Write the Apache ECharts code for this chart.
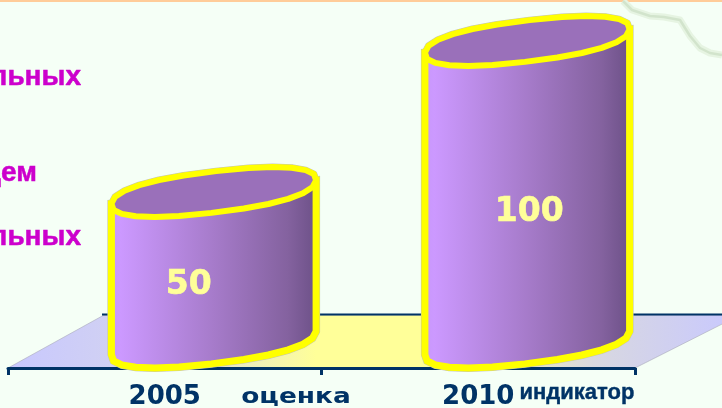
<!DOCTYPE html>
<html><head><meta charset="utf-8">
<style>html,body{margin:0;padding:0;background:#F5FFF6}#c{width:722px;height:408px}</style>
<script src="https://cdn.jsdelivr.net/npm/echarts@6/dist/echarts.min.js"></script>
</head><body><div id="c"></div>
<script>
const categories = ['2005', '2010'];
const values = [50, 100];
const notes = ['оценка', 'индикатор'];
const leftText = ['льных', 'дем', 'льных'];

const chart = echarts.init(document.getElementById('c'), null, {renderer: 'canvas'});
const NAVY = '#003366', YEL = '#FFFF00';
const labelShift = [[-25, 18], [2, 20]];

function rim(cx, cy, from, to, n) {
  const a = 103, b = 21, th = 6.5 * Math.PI / 180, k = 0.85, pts = [];
  const pw = v => Math.sign(v) * Math.pow(Math.abs(v), k);
  for (let i = 0; i <= n; i++) {
    const t = from + (to - from) * i / n;
    const c = pw(Math.cos(t)), s = pw(Math.sin(t));
    pts.push([cx + a * c * Math.cos(th) - b * s * Math.sin(th),
              cy - a * c * Math.sin(th) + b * s * Math.cos(th)]);
  }
  return pts;
}
function renderItem(params, api) {
  const i = params.dataIndex;
  const base = api.coord([api.value(0), 0]);
  const top = api.coord([api.value(0), api.value(1)]);
  const cx = base[0] + 49;
  const lower = rim(cx, base[1], 0, Math.PI, 12);
  const upper = rim(cx, top[1], 0, 2 * Math.PI, 24).slice(0, -1);
  const body = [rim(cx, top[1], 0, 0, 1)[0]].concat(lower, [rim(cx, top[1], Math.PI, Math.PI, 1)[0]]);
  const grad = new echarts.graphic.LinearGradient(0, 0, 1, 0, [
    {offset: 0, color: '#C598F8'}, {offset: 0.06, color: '#CC99FF'},
    {offset: 0.5, color: '#A67BCA'}, {offset: 0.85, color: '#84629F'}, {offset: 1, color: '#6A4F85'}
  ]);
  return {type: 'group', children: [
    {type: 'polygon', shape: {points: body}, style: {fill: 'none', stroke: '#C4C4B8', lineWidth: 8, lineJoin: 'miter'}},
    {type: 'polygon', shape: {points: upper}, style: {fill: 'none', stroke: '#C4C4B8', lineWidth: 7, lineJoin: 'round'}},
    {type: 'polygon', shape: {points: body}, style: {fill: grad, stroke: YEL, lineWidth: 7, lineJoin: 'miter'}},
    {type: 'polygon', shape: {points: upper}, style: {fill: '#9A70BA', stroke: YEL, lineWidth: 6, lineJoin: 'round'}},
    {type: 'text', x: cx + labelShift[i][0], y: (base[1] + top[1]) / 2 + labelShift[i][1],
      style: {text: String(api.value(1)), fill: '#FFFF99', stroke: '#FFFF99', lineWidth: 0.6, font: 'bold 33px "DejaVu Sans"', align: 'center', verticalAlign: 'middle'}}
  ]};
}
const heavy = (t, x, y) => ({type: 'text', z: 1, x, y, style: {text: t, fill: '#CC00CC', stroke: '#CC00CC', lineWidth: 0.5, font: 'bold 28px "Liberation Sans"', align: 'right', verticalAlign: 'middle'}});
const ridge = [[623,1],[632,10],[650,16],[664,17],[680,20],[690,36],[700,48],[710,53],[722,55]];
chart.setOption({
  animation: false,
  backgroundColor: '#F5FFF6',
  grid: {left: 8, right: 87, top: 41, bottom: 65, outerBoundsMode: 'none'},
  xAxis: {
    type: 'category', data: categories, offset: 25,
    axisLine: {onZero: false, lineStyle: {color: NAVY, width: 3}},
    axisTick: {show: true, length: 7, lineStyle: {color: NAVY, width: 3}},
    axisLabel: {color: NAVY, fontFamily: 'DejaVu Sans', fontWeight: 'bold', fontSize: 26, margin: 16}
  },
  yAxis: {type: 'value', min: 0, max: 100, show: false, splitLine: {show: false}},
  graphic: [
    {type: 'rect', z: 0, shape: {x: 0, y: 0, width: 722, height: 2}, style: {fill: '#FFCC99'}},
    {type: 'polyline', z: 0, shape: {points: ridge}, style: {fill: 'none', stroke: '#E6F4E2', lineWidth: 7, lineJoin: 'round'}},
    {type: 'polyline', z: 0, shape: {points: ridge}, style: {fill: 'none', stroke: '#D2E4CC', lineWidth: 2.5, lineJoin: 'round'}},
    {type: 'polygon', z: 0, shape: {points: [[8,368],[104,315],[740,315],[635,368]]},
      style: {fill: new echarts.graphic.LinearGradient(0, 0, 1, 0, [
        {offset: 0, color: '#C8C8FF'}, {offset: 0.2, color: '#D4D4EE'}, {offset: 0.42, color: '#FFFF99'},
        {offset: 0.58, color: '#FFFF99'}, {offset: 0.8, color: '#D8D8E0'}, {offset: 1, color: '#C8C8FF'}
      ]), stroke: '#A8A8B8', lineWidth: 0.6}},
    {type: 'line', z: 1, shape: {x1: 102, y1: 314.5, x2: 722, y2: 314.5}, style: {stroke: NAVY, lineWidth: 2}},
    heavy(leftText[0], 81, 77),
    heavy(leftText[1], 37, 173),
    heavy(leftText[2], 81, 237),
    {type: 'text', z: 1, x: 296, y: 397, scaleX: 1.2,
      style: {text: notes[0], fill: NAVY, font: 'bold 22px "DejaVu Sans"', align: 'center', verticalAlign: 'middle'}},
    {type: 'text', z: 1, x: 577, y: 393, style: {text: notes[1], fill: NAVY, stroke: NAVY, lineWidth: 0.4, font: 'bold 22px "Liberation Sans"', align: 'center', verticalAlign: 'middle'}}
  ],
  series: [{type: 'custom', renderItem, data: categories.map((c, i) => [i, values[i]]), encode: {x: 0, y: 1}, clip: false}]
});
</script></body></html>
